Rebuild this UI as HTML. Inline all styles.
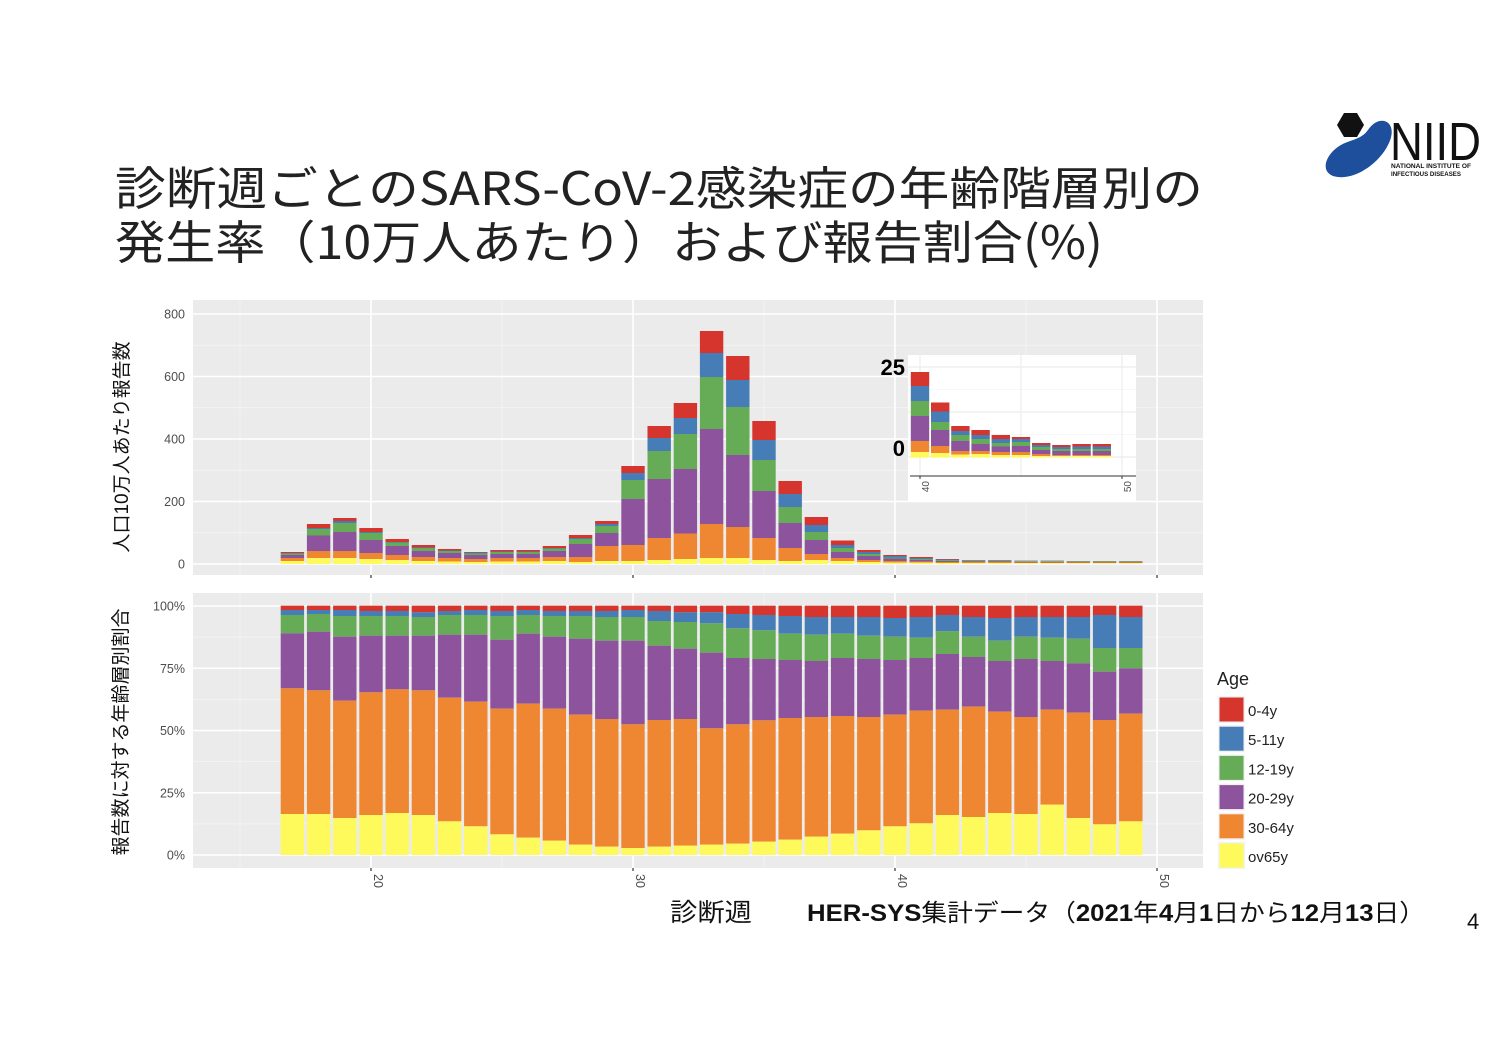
<!DOCTYPE html>
<html><head><meta charset="utf-8"><style>
html,body{margin:0;padding:0;background:#fff;}
svg{display:block;}
</style></head><body>
<svg id="s" width="1492" height="1054" viewBox="0 0 1492 1054" xmlns="http://www.w3.org/2000/svg" font-family="'Liberation Sans','Noto Sans CJK JP',sans-serif">
<rect width="1492" height="1054" fill="#fff"/>
<text x="115" y="205" font-size="46" fill="#222" textLength="1088" lengthAdjust="spacingAndGlyphs" font-family="'Noto Sans CJK JP',sans-serif">診断週ごとのSARS-CoV-2感染症の年齢階層別の</text>
<text x="115" y="259" font-size="46" fill="#222" textLength="988" lengthAdjust="spacingAndGlyphs" font-family="'Noto Sans CJK JP',sans-serif">発生率（10万人あたり）および報告割合(%)</text>
<path d="M1368 130 C1380 112 1400 122 1388 145 C1378 165 1352 182 1333 176 C1318 170 1328 150 1345 143 C1355 139 1362 138 1368 130Z" fill="#1d4f9c"/>
<polygon points="1344,113 1357,113 1364,125 1357,137 1344,137 1337,125" fill="#111"/>
<text x="1390" y="160" font-size="54" fill="#111" textLength="91" lengthAdjust="spacingAndGlyphs">NIID</text>
<text x="1391" y="168" font-size="6.5" font-weight="bold" fill="#111" textLength="80" lengthAdjust="spacingAndGlyphs">NATIONAL INSTITUTE OF</text>
<text x="1391" y="176" font-size="6.5" font-weight="bold" fill="#111" textLength="70" lengthAdjust="spacingAndGlyphs">INFECTIOUS DISEASES</text>
<g id="g"></g>
<text x="670" y="921" font-size="25" fill="#111" textLength="82" lengthAdjust="spacingAndGlyphs">診断週</text>
<text x="807" y="921" font-size="24" fill="#111" textLength="618" lengthAdjust="spacingAndGlyphs"><tspan font-weight="bold">HER-SYS</tspan>集計データ（<tspan font-weight="bold">2021</tspan>年<tspan font-weight="bold">4</tspan>月<tspan font-weight="bold">1</tspan>日から<tspan font-weight="bold">12</tspan>月<tspan font-weight="bold">13</tspan>日）</text>
<text x="1467" y="929" font-size="22" fill="#111">4</text>
</svg>
<script>
var NS="http://www.w3.org/2000/svg",g=document.getElementById('g');
function el(t,a,txt){var e=document.createElementNS(NS,t);for(var k in a)e.setAttribute(k,a[k]);if(txt!=null)e.textContent=txt;g.appendChild(e);return e;}
var C=['#d6352d','#477db6','#66ab55','#8d549d','#ef8632','#fefa5c'];
function X(w){return 371+(w-20)*26.2;}
function panel(y0,y1,hl,mids){
 el('rect',{x:193,y:y0,width:1010,height:y1-y0,fill:'#ebebeb'});
 mids.forEach(function(y){el('line',{x1:193,x2:1203,y1:y,y2:y,stroke:'#f5f5f5','stroke-width':0.8});});
 [15,25,35,45].forEach(function(w){el('line',{x1:X(w),x2:X(w),y1:y0,y2:y1,stroke:'#f5f5f5','stroke-width':0.8});});
 hl.forEach(function(y){el('line',{x1:193,x2:1203,y1:y,y2:y,stroke:'#fff','stroke-width':1.6});});
 [20,30,40,50].forEach(function(w){el('line',{x1:X(w),x2:X(w),y1:y0,y2:y1,stroke:'#fff','stroke-width':1.6});
  el('line',{x1:X(w),x2:X(w),y1:y1,y2:y1+3,stroke:'#333','stroke-width':1.2});});
}
panel(300,575,[564,501.5,439,376.5,314],[532.75,470.25,407.75,345.25]);
panel(593,868,[855,792.75,730.5,668.25,606],[823.9,761.6,699.4,637.1]);
var T=[[552,553,553.5,555,558,561],[524,528,529,535.5,551,558],[518,521,523,532,551,558],[528,532,533,540,553,559],
[539,542,542.5,546,555,560],[545,547.5,548,551,557,561],[549,550.5,551,553,558,561.5],[552,552.5,553.5,555,559,562],
[550,551.5,552,554,558,561.5],[550,551.5,552,554,558,561.5],[546,548,548.5,551,557,561],[535,538,539,544,557,562],
[521,524,526,533,546,561],[466,473,480,499,545,561],[426,438,451,479,538,560],[403,418,434,469,533.5,559],
[331,353,377,429,524,558],[356,380,407,455,527,558],[421,440,460,491,538,560],[481,494,507,523,548,561],
[517,525,532,540,554,560],[540.5,545,548,552,558,561],[550,552,554,556,560,562],[555,556,557.5,558.5,561,562.5],
[557,558,559,560,561.5,562.5],[559,559.5,560,561,562,563],[560,560.4,560.8,561.5,562.3,563],[560,560.4,560.8,561.5,562.3,563],
[560.5,560.8,561.2,561.8,562.5,563],[560.5,560.8,561.2,561.8,562.5,563],[561,561.3,561.6,562,562.6,563],[561,561.3,561.6,562,562.6,563],
[561,561.3,561.6,562,562.6,563]];
T.forEach(function(b,i){var x=X(17+i)-11.7;var bs=b.concat([564]);
 for(var k=0;k<6;k++){if(bs[k+1]>bs[k])el('rect',{x:x,y:bs[k],width:23.4,height:bs[k+1]-bs[k],fill:C[k]});}});
var B=[[45,60,115,280,657],[45,57,110,286,657],[45,63,125,317,669],[48,63,122,292,660],[48,63,122,283,654],[52,66,122,286,660],
[48,60,119,308,679],[45,60,119,320,694],[48,63,134,341,718],[45,60,116,326,728],[48,63,125,341,737],[48,63,131,359,749],
[48,66,137,372,755],[45,66,137,388,759],[48,78,152,375,755],[52,81,161,372,752],[52,85,173,400,749],
[57,100,189,388,746],[60,106,192,376,740],[63,116,195,369,734],[66,119,198,366,725],[66,116,189,363,716],[66,122,192,366,706],
[69,125,195,359,694],[66,128,189,347,685],[60,109,177,344,660],[66,125,186,335,666],[69,137,198,350,654],[66,125,192,366,657],
[66,128,198,344,629],[66,131,205,353,669],[60,159,230,375,688],[66,159,220,356,679]];
B.forEach(function(b,i){var x=X(17+i)-11.7;var bs=[32].concat(b).concat([780]).map(function(v){return 595+v/3;});
 for(var k=0;k<6;k++)el('rect',{x:x,y:bs[k],width:23.4,height:bs[k+1]-bs[k],fill:C[k]});});
var tl={fill:'#4d4d4d','font-size':12.5,'text-anchor':'end'};
[['800',314],['600',376.5],['400',439],['200',501.5],['0',564]].forEach(function(a){var o=Object.assign({x:185,y:a[1]+4.5},tl);el('text',o,a[0]);});
[['100%',606],['75%',668.25],['50%',730.5],['25%',792.75],['0%',855]].forEach(function(a){var o=Object.assign({x:185,y:a[1]+4.5},tl);el('text',o,a[0]);});
[20,30,40,50].forEach(function(w){el('text',{x:0,y:0,fill:'#4d4d4d','font-size':12.5,'text-anchor':'start',transform:'translate('+(X(w)+3)+',874) rotate(90)'},String(w));});
el('text',{x:0,y:0,'font-size':19,fill:'#111','text-anchor':'middle',transform:'translate(128,447) rotate(-90)'},'人口10万人あたり報告数');
el('text',{x:0,y:0,'font-size':19,fill:'#111','text-anchor':'middle',transform:'translate(127,732) rotate(-90)'},'報告数に対する年齢層別割合');
el('rect',{x:908,y:355,width:228,height:147,fill:'#fff'});
[367,412,457].forEach(function(y){el('line',{x1:908,x2:1136,y1:y,y2:y,stroke:'#ececec','stroke-width':1.2});});
[389.5,434.5].forEach(function(y){el('line',{x1:908,x2:1136,y1:y,y2:y,stroke:'#f5f5f5','stroke-width':0.8});});
[920,1021,1122].forEach(function(x){el('line',{x1:x,x2:x,y1:355,y2:476,stroke:'#ececec','stroke-width':1.2});});
el('line',{x1:910,x2:1136,y1:476,y2:476,stroke:'#333','stroke-width':1});
[920,1122].forEach(function(x){el('line',{x1:x,x2:x,y1:476,y2:479,stroke:'#333','stroke-width':1});});
el('text',{x:0,y:0,fill:'#4d4d4d','font-size':10,'text-anchor':'end',transform:'translate(929,481) rotate(-90)'},'40');
el('text',{x:0,y:0,fill:'#4d4d4d','font-size':10,'text-anchor':'end',transform:'translate(1131,481) rotate(-90)'},'50');
var I=[[372,386,401,416,441,452],[402.5,411.5,422,430,446,453],[426,431,435,441,451,454.5],[430,435,439,444,451,454],
[435,439,443,446.5,452,455],[437,439,442,446,452,455],[443,445,447,450,454,456],[445,447,449,451,455,456],[444,446.5,449,451,455,456],[444,446.5,449,451,455,456]];
I.forEach(function(b,i){var x=920+i*20.2-9.2;var bs=b.concat([457.5]);
 for(var k=0;k<6;k++)el('rect',{x:x,y:bs[k],width:18.4,height:bs[k+1]-bs[k],fill:C[k]});});
el('text',{x:905,y:375,'font-size':22,'font-weight':'bold',fill:'#000','text-anchor':'end'},'25');
el('text',{x:905,y:456,'font-size':22,'font-weight':'bold',fill:'#000','text-anchor':'end'},'0');
el('text',{x:1217,y:685,'font-size':18,fill:'#222'},'Age');
var L=['0-4y','5-11y','12-19y','20-29y','30-64y','ov65y'];
L.forEach(function(t,i){var y=696+i*29.2;el('rect',{x:1218,y:y,width:27,height:27,fill:'#f2f2f2'});
 el('rect',{x:1219.5,y:y+1.5,width:24,height:24,fill:C[i]});
 el('text',{x:1248,y:y+20,'font-size':15,fill:'#222'},t);});
</script>
</body></html>
